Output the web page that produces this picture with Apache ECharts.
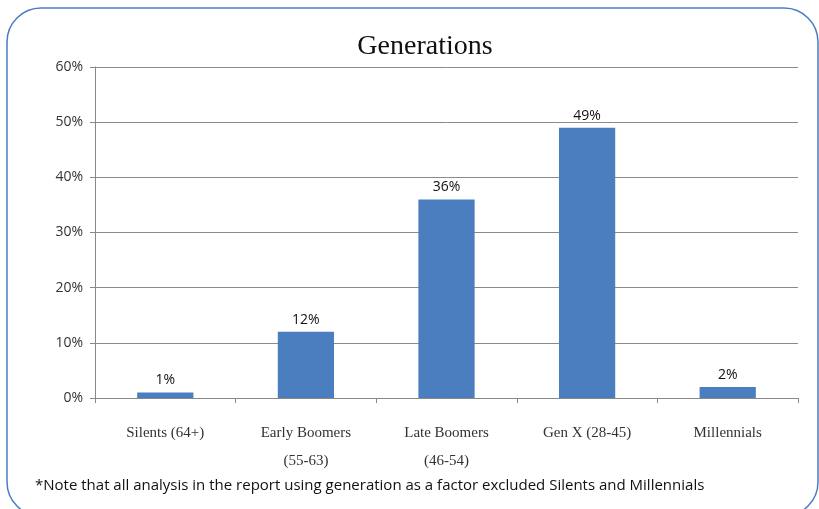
<!DOCTYPE html>
<html>
<head>
<meta charset="utf-8">
<script src="https://cdn.jsdelivr.net/npm/echarts@6/dist/echarts.min.js"></script>
<style>html,body{margin:0;padding:0;background:#fff}#c{width:819px;height:509px}</style>
</head>
<body>
<div id="c"></div>
<script>
const categories = ['Silents (64+)', 'Early Boomers\n(55-63)', 'Late Boomers\n(46-54)', 'Gen X (28-45)', 'Millennials'];
const values = [1, 12, 36, 49, 2];
const yTicks = [0, 10, 20, 30, 40, 50, 60];
const titleText = 'Generations';
const noteText = '*Note that all analysis in the report using generation as a factor excluded Silents and Millennials';

const chart = echarts.init(document.getElementById('c'), null, {renderer: 'canvas'});
chart.setOption({
  backgroundColor: '#fff',
  animation: false,
  title: {
    text: titleText,
    left: 420, top: 28, textAlign: 'center',
    textStyle: {fontFamily: 'Liberation Serif', fontWeight: 'normal', fontSize: 28, color: '#111'}
  },
  graphic: [
    {type: 'rect', shape: {x: 7, y: 8, width: 811, height: 508, r: 34},
     style: {fill: 'none', stroke: '#4a7cc4', lineWidth: 1.5}, z: 10},
    {type: 'text', left: 35, top: 478,
     style: {text: noteText, font: '15px "Open Sans"', fill: '#111'}}
  ],
  grid: {left: 95, right: 21, top: 67, bottom: 111},
  xAxis: {
    type: 'category', data: categories,
    axisLine: {lineStyle: {color: '#888', width: 1}},
    axisTick: {show: true, length: 5, lineStyle: {color: '#888'}},
    axisLabel: {fontFamily: 'Liberation Serif', fontSize: 15, color: '#333', lineHeight: 28, margin: 21}
  },
  yAxis: {
    type: 'value', min: 0, max: 60, interval: 10,
    axisLine: {show: true, lineStyle: {color: '#888', width: 1}},
    axisTick: {show: true, length: 5, lineStyle: {color: '#888'}},
    splitLine: {lineStyle: {color: '#8a8a8a', width: 1}},
    axisLabel: {formatter: v => yTicks.includes(v) ? v + '%' : '', fontFamily: 'Open Sans', fontSize: 14, color: '#333', margin: 12}
  },
  series: [{
    type: 'bar', data: values, barWidth: '40%',
    itemStyle: {color: '#4a7ebf'},
    label: {show: true, position: 'top', distance: 5, formatter: p => p.value + '%',
      fontFamily: 'Open Sans', fontSize: 14, color: '#111'}
  }]
});
</script>
</body>
</html>
